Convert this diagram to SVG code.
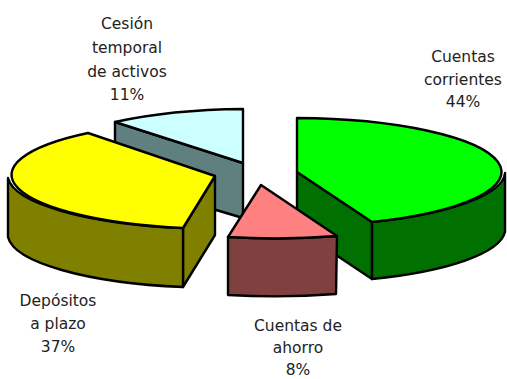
<svg xmlns="http://www.w3.org/2000/svg" width="507" height="379" viewBox="0 0 507 379">
<style>
.s{stroke:#000;stroke-width:2.4;stroke-linejoin:round}
.t{font-family:"DejaVu Sans",Verdana,sans-serif;font-size:15.5px;fill:#222;text-anchor:middle}
</style>
<rect width="507" height="379" fill="#fff"/>
<g id="cesion">
<path class="s" fill="#608080" d="M243,163 L115,122 L115,180 L243,218 Z"/>
<path class="s" fill="#CCFFFF" d="M243,163 L115,122 A208,54 0 0,1 243,109 Z"/>
</g>
<g id="corrientes">
<path class="s" fill="#007000" d="M297,172 L372,222 L372,279 L297,229 Z"/>
<path class="s" fill="#007000" d="M505,173 A208,54 0 0,1 372,222 L372,279 A208,54 0 0,0 505,232 Z"/>
<path class="s" fill="#00FF00" d="M297,172 L297,118 A208,54 0 0,1 372,222 Z"/>
</g>
<g id="depositos">
<path class="s" fill="#808000" d="M215,176 L183,228 L183,287 L215,235 Z"/>
<path class="s" fill="#808000" d="M183,228 A208,54 0 0,1 8,178 L8,237 A208,54 0 0,0 183,287 Z"/>
<path class="s" fill="#FFFF00" d="M215,176 L183,228 A208,54 0 0,1 88,133 Z"/>
</g>
<g id="ahorro">
<path class="s" fill="#804040" d="M337,236 A208,54 0 0,1 228,237 L228,295 A208,54 0 0,0 336,294 Z"/>
<path class="s" fill="#FF8080" d="M261,185 L337,236 A208,54 0 0,1 228,237 Z"/>
</g>
<g id="connectors"></g>
<g id="labels">
<text class="t" x="127" y="29">Cesión</text>
<text class="t" x="127" y="53">temporal</text>
<text class="t" x="127" y="77">de activos</text>
<text class="t" x="127" y="100">11%</text>
<text class="t" x="463" y="62">Cuentas</text>
<text class="t" x="463" y="85">corrientes</text>
<text class="t" x="463" y="107">44%</text>
<text class="t" x="58" y="306">Depósitos</text>
<text class="t" x="58" y="329">a plazo</text>
<text class="t" x="58" y="352">37%</text>
<text class="t" x="298" y="331">Cuentas de</text>
<text class="t" x="298" y="353">ahorro</text>
<text class="t" x="298" y="375">8%</text>
</g>
</svg>
